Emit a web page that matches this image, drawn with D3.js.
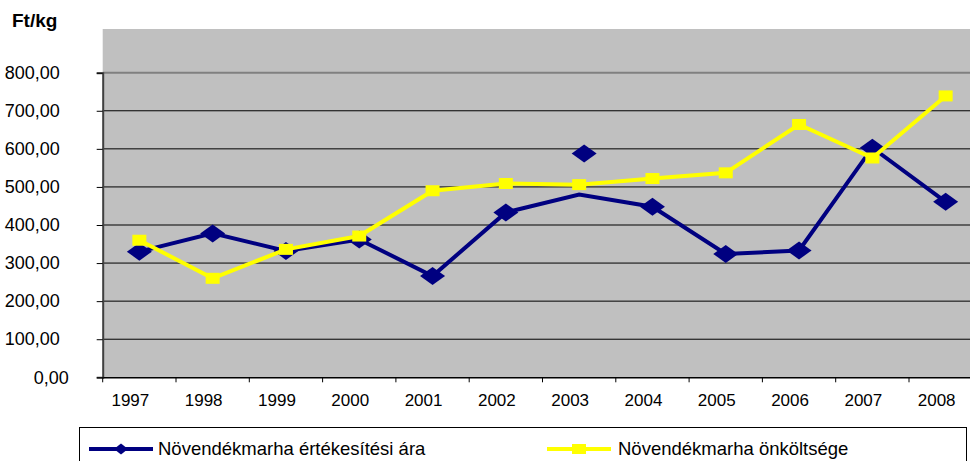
<!DOCTYPE html>
<html>
<head>
<meta charset="utf-8">
<script src="https://cdn.jsdelivr.net/npm/d3@7"></script>
<style>
  body { margin: 0; background: #fff; }
  svg { display: block; font-family: "Liberation Sans", Arial, sans-serif; }
</style>
</head>
<body>
<svg class="chart"></svg>
<script>
// data
var years = ["1997", "1998", "1999", "2000", "2001", "2002", "2003", "2004", "2005", "2006", "2007", "2008"];
var priceValues = [330, 378, 332, 362, 266, 433, 480, 448, 324, 333, 603, 461];
var costValues = [360, 260, 336, 371, 490, 509, 506, 522, 537, 664, 576, 739];
// lone diamond of the price series, drawn without a line
var strayYears = ["2003"];
var strayValues = [588];
var yTicks = [0, 100, 200, 300, 400, 500, 600, 700, 800];
var seriesNames = ["Növendékmarha értékesítési ára", "Növendékmarha önköltsége"];

var W = 970, H = 461;
var plot = {left: 102.7, right: 982.3, top: 29, bottom: 377.3};

var svg = d3.select(".chart").attr("width", W).attr("height", H);

var x = d3.scaleBand()
    .domain(years)
    .range([plot.left, plot.right])
    .padding(0);
var cx = d => x(d) + x.bandwidth() / 2;

var y = d3.scaleLinear()
    .domain([0, 800])
    .range([plot.bottom, 72.7]);

// grey plot area
svg.append("rect")
    .attr("x", plot.left).attr("y", plot.top)
    .attr("width", plot.right - plot.left).attr("height", plot.bottom - plot.top)
    .attr("fill", "#c0c0c0");

// gridlines
svg.append("g").selectAll("line")
    .data(yTicks.filter(d => d > 0))
    .enter().append("line")
    .attr("x1", plot.left).attr("x2", plot.right)
    .attr("y1", d => y(d)).attr("y2", d => y(d))
    .attr("stroke", d => d == 800 ? "#808080" : "#000")
    .attr("stroke-width", d => d == 800 ? 2 : 1);

// y axis
var yAxis = svg.append("g")
    .attr("transform", "translate(" + plot.left + ",0)")
    .call(d3.axisLeft(y).tickValues(yTicks).tickSize(6).tickPadding(37)
        .tickFormat(d => d.toFixed(2).replace(".", ",")));
yAxis.select(".domain").attr("stroke", "#404040").attr("stroke-width", 2);
yAxis.selectAll(".tick line").attr("stroke", "#000");
yAxis.selectAll(".tick text")
    .attr("font-size", 18).attr("font-family", "Liberation Sans, Arial, sans-serif").attr("fill", "#000")
    .attr("dx", d => d == 0 ? 9 : 0);

// x axis
var xAxis = svg.append("g")
    .attr("transform", "translate(0," + plot.bottom + ")")
    .call(d3.axisBottom(x).tickSize(0).tickPadding(17).tickSizeOuter(0));
xAxis.select(".domain").attr("stroke", "#000").attr("stroke-width", 1.5);
xAxis.selectAll(".tick text")
    .attr("font-size", 17).attr("font-family", "Liberation Sans, Arial, sans-serif").attr("fill", "#000")
    .attr("dx", -9);
svg.append("g").selectAll("line")
    .data(years.concat(["end"]))
    .enter().append("line")
    .attr("x1", d => d == "end" ? plot.right : x(d))
    .attr("x2", d => d == "end" ? plot.right : x(d))
    .attr("y1", plot.bottom).attr("y2", plot.bottom + 5)
    .attr("stroke", "#000");

// axis title
svg.append("text")
    .attr("x", 12).attr("y", 27)
    .attr("font-size", 19).attr("font-weight", "bold")
    .text("Ft/kg");

var line = d3.line()
    .x(d => cx(d.year))
    .y(d => y(d.value));

var price = years.map((yr, i) => ({year: yr, value: priceValues[i]}));
var cost = years.map((yr, i) => ({year: yr, value: costValues[i]}));
var stray = strayYears.map((yr, i) => ({year: yr, value: strayValues[i]}));

var diamond = (w, h) => "M0," + (-h / 2) + "L" + (w / 2) + ",0L0," + (h / 2) + "L" + (-w / 2) + ",0Z";

// price series (navy), drawn first so yellow sits on top
svg.append("path")
    .datum(price)
    .attr("fill", "none").attr("stroke", "#000080").attr("stroke-width", 4)
    .attr("d", line);
svg.append("g").selectAll("path")
    .data(price.filter(d => d.year != "2003").concat(stray))
    .enter().append("path")
    .attr("transform", d => "translate(" + (cx(d.year) + (strayYears.includes(d.year) ? 5 : 0)) + "," + y(d.value) + ")")
    .attr("d", diamond(25, 18))
    .attr("fill", "#000080");

// cost series (yellow)
svg.append("path")
    .datum(cost)
    .attr("fill", "none").attr("stroke", "#ffff00").attr("stroke-width", 4)
    .attr("d", line);
svg.append("g").selectAll("rect")
    .data(cost)
    .enter().append("rect")
    .attr("x", d => cx(d.year) - 7).attr("y", d => y(d.value) - 5.5)
    .attr("width", 14).attr("height", 11)
    .attr("fill", "#ffff00");

// legend
var legend = svg.append("g");
legend.append("rect")
    .attr("x", 79.5).attr("y", 427.5)
    .attr("width", 887).attr("height", 60)
    .attr("fill", "#fff").attr("stroke", "#000");

var legendItems = [
  {name: seriesNames[0], color: "#000080", x1: 89, x2: 153, tx: 158, shape: "diamond"},
  {name: seriesNames[1], color: "#ffff00", x1: 547, x2: 611, tx: 618, shape: "square"}
];
var li = legend.selectAll(".item").data(legendItems).enter().append("g");
li.append("line")
    .attr("x1", d => d.x1).attr("x2", d => d.x2)
    .attr("y1", 449).attr("y2", 449)
    .attr("stroke", d => d.color).attr("stroke-width", 4);
li.filter(d => d.shape == "diamond").append("path")
    .attr("transform", d => "translate(" + (d.x1 + d.x2) / 2 + ",449)")
    .attr("d", diamond(14, 11))
    .attr("fill", d => d.color);
li.filter(d => d.shape == "square").append("rect")
    .attr("x", d => (d.x1 + d.x2) / 2 - 7).attr("y", 444)
    .attr("width", 14).attr("height", 10)
    .attr("fill", d => d.color);
li.append("text")
    .attr("x", d => d.tx).attr("y", 455)
    .attr("font-size", 18.5)
    .text(d => d.name);
</script>
</body>
</html>
